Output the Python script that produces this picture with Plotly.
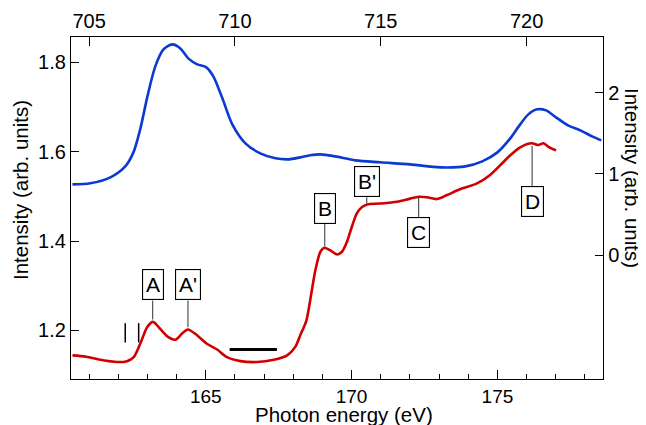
import plotly.graph_objects as go

# ---- data ----
# S L-edge spectrum (bottom axis, left axis)
s_energy = [160.43, 160.9, 161.39, 161.96, 162.3, 162.53, 162.76, 162.99, 163.19, 163.39,
            163.67, 163.96, 164.19, 164.39, 164.70, 165.04, 165.39, 165.73, 166.19, 166.76,
            167.33, 167.79, 168.07, 168.24, 168.45, 168.58, 168.76, 168.93, 169.06, 169.27,
            169.50, 169.67, 169.84, 170.01, 170.18, 170.36, 170.53, 170.98, 171.56, 172.01,
            172.30, 172.58, 172.93, 173.27, 173.72, 174.30, 174.75, 175.10, 175.44, 175.78,
            176.18, 176.40, 176.58, 176.75, 177.01]
s_intensity = [1.144, 1.141, 1.134, 1.129, 1.131, 1.140, 1.171, 1.207, 1.219, 1.207,
               1.187, 1.179, 1.193, 1.202, 1.189, 1.170, 1.157, 1.140, 1.131, 1.129,
               1.134, 1.144, 1.163, 1.189, 1.222, 1.267, 1.335, 1.376, 1.385, 1.379,
               1.370, 1.376, 1.398, 1.432, 1.462, 1.476, 1.482, 1.484, 1.488, 1.495,
               1.499, 1.498, 1.494, 1.503, 1.516, 1.529, 1.548, 1.570, 1.592, 1.610,
               1.619, 1.615, 1.619, 1.611, 1.603]

# Fe L-edge spectrum (top axis, right axis)
fe_energy = [704.43, 705.04, 705.73, 706.24, 706.52, 706.76, 707.00, 707.27, 707.55, 707.85,
             708.13, 708.40, 708.71, 709.02, 709.26, 709.57, 709.91, 710.36, 710.87, 711.39,
             711.83, 712.24, 712.58, 712.93, 713.44, 714.13, 714.98, 716.01, 717.04, 717.90,
             718.48, 719.00, 719.44, 719.78, 720.06, 720.36, 720.67, 721.01, 721.42, 721.84,
             722.25, 722.56]
fe_intensity = [0.872, 0.885, 0.958, 1.093, 1.265, 1.560, 1.953, 2.322, 2.531, 2.592,
                2.543, 2.420, 2.346, 2.310, 2.199, 1.929, 1.609, 1.376, 1.253, 1.192,
                1.179, 1.204, 1.229, 1.241, 1.216, 1.167, 1.143, 1.118, 1.081, 1.093,
                1.155, 1.265, 1.437, 1.609, 1.732, 1.794, 1.781, 1.695, 1.597, 1.536,
                1.462, 1.413]

# feature labels
label_text = ["A", "A'", "B", "B'", "C", "D"]
label_energy = [163.18, 164.39, 169.08, 170.52, 172.30, 176.19]

bottom_ticks = [165, 170, 175]
top_ticks = [705, 710, 715, 720]
left_ticks = [1.2, 1.4, 1.6, 1.8]
right_ticks = [0, 1, 2]

# ---- layout config ----
label_y = [1.302, 1.302, 1.474, 1.533, 1.419, 1.489]
leader = [(1.267, 1.224), (1.267, 1.207), (1.439, 1.388), (1.498, 1.485), (1.453, 1.499), (1.522, 1.613)]

FONT = "Liberation Sans, Arial, Helvetica, sans-serif"
RED = "#d00000"
BLUE = "#0a3ad0"

fig = go.Figure()
fig.add_trace(go.Scatter(x=s_energy, y=s_intensity, mode="lines",
                         line=dict(color=RED, width=2.6, shape="spline", smoothing=0.8),
                         xaxis="x", yaxis="y", showlegend=False, hoverinfo="skip"))
fig.add_trace(go.Scatter(x=fe_energy, y=fe_intensity, mode="lines",
                         line=dict(color=BLUE, width=2.6, shape="spline", smoothing=0.8),
                         xaxis="x2", yaxis="y2", showlegend=False, hoverinfo="skip"))

shapes = []
for e, (y0, y1) in zip(label_energy, leader):
    shapes.append(dict(type="line", xref="x", yref="y", x0=e, x1=e, y0=y0, y1=y1,
                       line=dict(color="#444444", width=1.1)))
# two vertical markers and the horizontal bar
for e in [162.24, 162.70]:
    shapes.append(dict(type="line", xref="x", yref="y", x0=e, x1=e, y0=1.173, y1=1.216,
                       line=dict(color="black", width=1.5)))
shapes.append(dict(type="line", xref="x", yref="y", x0=165.82, x1=167.44, y0=1.157, y1=1.157,
                   line=dict(color="black", width=3)))

annotations = []
for t, e, y in zip(label_text, label_energy, label_y):
    annotations.append(dict(x=e, y=y, xref="x", yref="y", text=t, showarrow=False,
                            xanchor="center", yanchor="middle",
                            font=dict(family=FONT, size=21, color="black"),
                            bordercolor="black", borderwidth=1.1, borderpad=3,
                            bgcolor="white"))
annotations.append(dict(x=-0.0959, y=0.5526, xref="paper", yref="paper",
                        xanchor="center", yanchor="middle",
                        text="Intensity (arb. units)", textangle=-90, showarrow=False,
                        font=dict(family=FONT, size=20.5, color="black")))
annotations.append(dict(x=1.0564, y=0.5877, xref="paper", yref="paper",
                        xanchor="center", yanchor="middle",
                        text="Intensity (arb. units)", textangle=90, showarrow=False,
                        font=dict(family=FONT, size=20.5, color="black")))
annotations.append(dict(x=0.513, y=-0.104, xref="paper", yref="paper",
                        xanchor="center", yanchor="middle",
                        text="Photon energy (eV)", showarrow=False,
                        font=dict(family=FONT, size=20.5, color="black")))

axis_common = dict(showline=True, linecolor="black", linewidth=1.3, ticks="inside",
                   tickcolor="black", tickwidth=1.2, showgrid=False, zeroline=False,
                   automargin=False)
tick_font = dict(family=FONT, size=20, color="black")

# the page body adds an 8px offset; margins compensate for it
fig.update_layout(
    width=646, height=425,
    margin=dict(l=63, r=51, t=29, b=54, autoexpand=False),
    paper_bgcolor="white", plot_bgcolor="white",
    xaxis=dict(range=[160.38, 178.62], tickvals=bottom_ticks, ticklen=9,
               tickfont=dict(family=FONT, size=19, color="black"),
               minor=dict(dtick=1, tick0=165, ticks="inside", ticklen=5, tickcolor="black",
                          tickwidth=1.1, showgrid=False),
               **axis_common),
    xaxis2=dict(range=[704.38, 722.62], tickvals=top_ticks, ticklen=9, overlaying="x",
                side="top", anchor="y", tickfont=tick_font, **axis_common),
    yaxis=dict(range=[1.091, 1.857], tickvals=left_ticks, ticklen=8,
               tickformat=".1f", tickfont=tick_font, **axis_common),
    yaxis2=dict(range=[-1.52, 2.683], tickvals=right_ticks, ticklen=8, overlaying="y",
                side="right", anchor="x", tickfont=tick_font, **axis_common),
    shapes=shapes, annotations=annotations,
)

fig.write_html("out.html")
